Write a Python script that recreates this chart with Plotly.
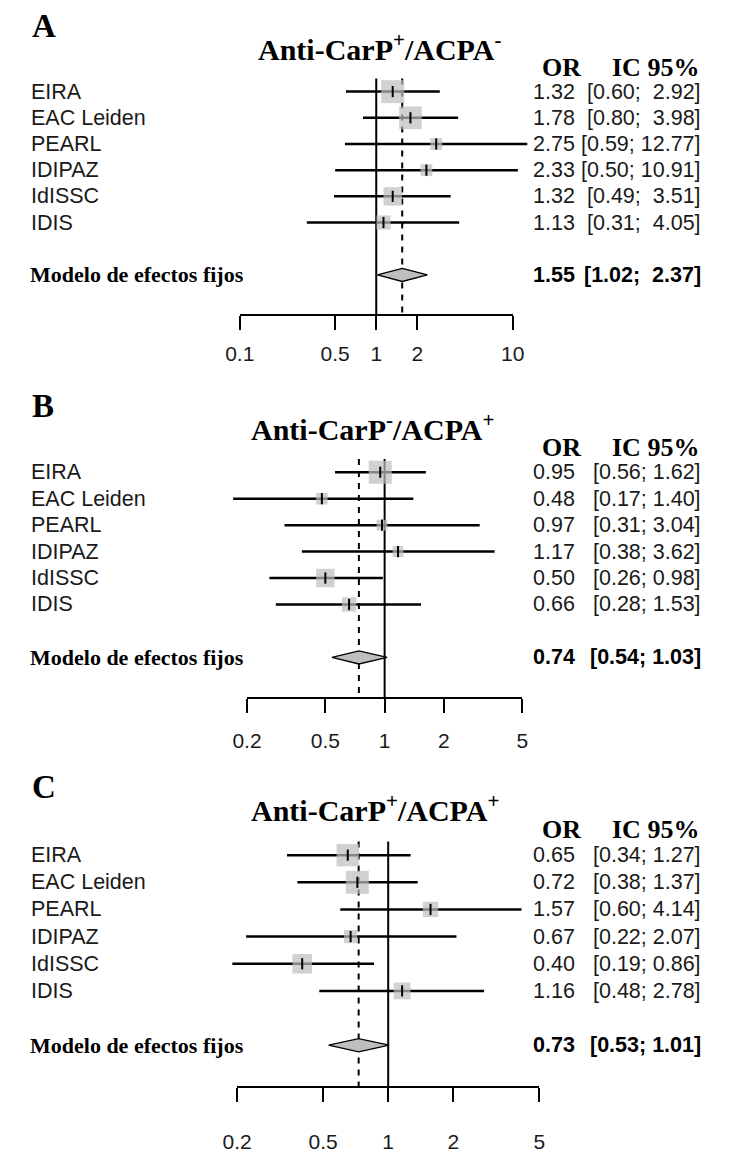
import math
import plotly.graph_objects as go

W, H = 736, 1153

studies = ["EIRA", "EAC Leiden", "PEARL", "IDIPAZ", "IdISSC", "IDIS"]
pooled_label = "Modelo de efectos fijos"

# Panel A: Anti-CarP+/ACPA-
a_letter = "A"
a_title = "Anti-CarP<sup>+</sup>/ACPA<sup>-</sup>"
a_or = [1.32, 1.78, 2.75, 2.33, 1.32, 1.13]
a_lo = [0.60, 0.80, 0.59, 0.50, 0.49, 0.31]
a_hi = [2.92, 3.98, 12.77, 10.91, 3.51, 4.05]
a_pooled = [1.55, 1.02, 2.37]
a_ticks = [0.1, 0.5, 1, 2, 10]

# Panel B: Anti-CarP-/ACPA+
b_letter = "B"
b_title = "Anti-CarP<sup>-</sup>/ACPA<sup>+</sup>"
b_or = [0.95, 0.48, 0.97, 1.17, 0.50, 0.66]
b_lo = [0.56, 0.17, 0.31, 0.38, 0.26, 0.28]
b_hi = [1.62, 1.40, 3.04, 3.62, 0.98, 1.53]
b_pooled = [0.74, 0.54, 1.03]
b_ticks = [0.2, 0.5, 1, 2, 5]

# Panel C: Anti-CarP+/ACPA+
c_letter = "C"
c_title = "Anti-CarP<sup>+</sup>/ACPA<sup>+</sup>"
c_or = [0.65, 0.72, 1.57, 0.67, 0.40, 1.16]
c_lo = [0.34, 0.38, 0.60, 0.22, 0.19, 0.48]
c_hi = [1.27, 1.37, 4.14, 2.07, 0.86, 2.78]
c_pooled = [0.73, 0.53, 1.01]
c_ticks = [0.2, 0.5, 1, 2, 5]

# ---- layout geometry (pixels) ----
# x1: pixel of OR = 1, dec: pixels per decade, row1: pixel of first study row,
# step: row pitch, title_x: left edge of the panel title, standoff: tick-label gap
geom = [
    dict(x1=375.0, dec=141.7, row1=93.3, step=26.67, title_x=250, standoff=6),
    dict(x1=383.7, dec=204.4, row1=481.0, step=26.94, title_x=243, standoff=10),
    dict(x1=387.4, dec=224.3, row1=871.0, step=27.66, title_x=243, standoff=22),
]
panels = [
    (a_letter, a_title, a_or, a_lo, a_hi, a_pooled, a_ticks),
    (b_letter, b_title, b_or, b_lo, b_hi, b_pooled, b_ticks),
    (c_letter, c_title, c_or, c_lo, c_hi, c_pooled, c_ticks),
]

Y_TOP, Y_BOT = -2.5, 9.5          # row-index range of each panel
POOL_ROW = 8
BOX_MAX = 23                      # side of the heaviest study's box, px
DIAMOND_HALF_PX = 6.7

SANS = "Liberation Sans, Arial, sans-serif"
SERIF = "Liberation Serif, Times New Roman, serif"
INK = "#1a1a1a"
GREY = "#bebebe"
NBSP = "\u00a0"

fig = go.Figure()
annotations = []
layout_axes = {}


def clamp(v):
    return min(1.0, max(0.0, v))


def fmt_ci(lo, hi, w_lo, w_hi):
    s = "[" + f"{lo:.2f}".rjust(w_lo) + "; " + f"{hi:.2f}".rjust(w_hi) + "]"
    return s.replace(" ", NBSP)


for k, ((letter, title, ors, los, his, pooled, ticks), g) in enumerate(zip(panels, geom)):
    n = k + 1
    ysuf = "" if n == 1 else str(n)
    yname = "y" + ysuf
    xwide = "x" + ysuf
    xnarrow = "x" + str(n + 3)

    px = lambda i, g=g: g["row1"] + (i - 1) * g["step"]
    top_px, bot_px = px(Y_TOP), px(Y_BOT)
    d0, d1 = clamp(1 - bot_px / H), clamp(1 - top_px / H)
    # keep the row-index scale exact even if the domain is clamped at the page edge
    y_top = Y_BOT - (Y_BOT - Y_TOP) * (d1 - d0) / ((bot_px - top_px) / H)

    layout_axes["yaxis" + ysuf] = dict(
        domain=[d0, d1], range=[Y_BOT, y_top],
        visible=False, fixedrange=True,
    )
    layout_axes["xaxis" + ysuf] = dict(
        type="log", domain=[0, 1], anchor=yname,
        range=[(0 - g["x1"]) / g["dec"], (W - g["x1"]) / g["dec"]],
        visible=False, fixedrange=True,
    )
    t0, t1 = math.log10(ticks[0]), math.log10(ticks[-1])
    layout_axes["xaxis" + str(n + 3)] = dict(
        type="log", anchor=yname,
        domain=[clamp((g["x1"] + g["dec"] * t0) / W), clamp((g["x1"] + g["dec"] * t1) / W)],
        range=[t0, t1], showgrid=False, zeroline=False,
        showline=True, linewidth=2, linecolor="black",
        ticks="outside", ticklen=14, tickwidth=2, tickcolor="black",
        tickvals=ticks, ticktext=[f"{t:g}" for t in ticks],
        tickfont=dict(family=SANS, size=21, color=INK),
        ticklabelstandoff=g["standoff"], fixedrange=True,
    )

    rows = list(range(1, len(ors) + 1))
    est, plo, phi = pooled
    common = dict(xaxis=xwide, yaxis=yname, showlegend=False, hoverinfo="skip")

    # axis holder on the tick axis
    fig.add_trace(go.Scatter(x=[ticks[0], ticks[-1]], y=[Y_BOT, Y_BOT], mode="markers",
                             marker=dict(opacity=0), xaxis=xnarrow, yaxis=yname,
                             showlegend=False, hoverinfo="skip"))

    # line of no effect and pooled-estimate line
    fig.add_trace(go.Scatter(x=[1, 1], y=[0.5, Y_BOT], mode="lines",
                             line=dict(color="black", width=2), **common))
    fig.add_trace(go.Scatter(x=[est, est], y=[0.5, Y_BOT], mode="lines",
                             line=dict(color="black", width=2, dash="6px,6px"), **common))

    # confidence intervals
    cx, cy = [], []
    for r, lo, hi in zip(rows, los, his):
        cx += [lo, hi, None]
        cy += [r, r, None]
    fig.add_trace(go.Scatter(x=cx, y=cy, mode="lines",
                             line=dict(color="black", width=2.5), **common))

    # study boxes, area proportional to inverse-variance weight
    weights = [1 / ((math.log(hi) - math.log(lo)) / 3.92) ** 2 for lo, hi in zip(los, his)]
    wmax = max(weights)
    sizes = [BOX_MAX * math.sqrt(w / wmax) for w in weights]
    fig.add_trace(go.Scatter(x=ors, y=rows, mode="markers", cliponaxis=False,
                             marker=dict(symbol="square", size=sizes, color=GREY,
                                         line=dict(width=0)), **common))
    fig.add_trace(go.Scatter(x=ors, y=rows, mode="markers", cliponaxis=False,
                             marker=dict(symbol="line-ns", size=8,
                                         line=dict(width=2, color="black")), **common))

    # pooled diamond
    dh = DIAMOND_HALF_PX / g["step"]
    fig.add_trace(go.Scatter(x=[plo, est, phi, est, plo],
                             y=[POOL_ROW, POOL_ROW - dh, POOL_ROW, POOL_ROW + dh, POOL_ROW],
                             mode="lines", fill="toself", fillcolor=GREY,
                             line=dict(color="black", width=1.3), **common))

    # text
    annotations.append(dict(text=f"<b>{letter}</b>", x=16 / W, xref="paper", xanchor="left",
                            y=-1.5, yref=yname, yanchor="middle", showarrow=False,
                            font=dict(family=SERIF, size=33, color="black")))
    annotations.append(dict(text=f"<b>{title}</b>", x=g["title_x"] / W, xref="paper",
                            xanchor="left", y=-0.72, yref=yname, yanchor="middle",
                            showarrow=False, font=dict(family=SERIF, size=30, color="black")))
    annotations.append(dict(text="<b>OR</b>", x=567 / W, xref="paper", xanchor="center",
                            y=0.07, yref=yname, yanchor="middle", showarrow=False,
                            font=dict(family=SERIF, size=26, color="black")))
    annotations.append(dict(text="<b>IC 95%</b>", x=665 / W, xref="paper", xanchor="center",
                            y=0.07, yref=yname, yanchor="middle", showarrow=False,
                            font=dict(family=SERIF, size=26, color="black")))

    w_lo = max(len(f"{v:.2f}") for v in list(los) + [plo])
    w_hi = max(len(f"{v:.2f}") for v in list(his) + [phi])
    for r, name, o, lo, hi in zip(rows, studies, ors, los, his):
        annotations.append(dict(text=name, x=15 / W, xref="paper", xanchor="left",
                                y=r, yref=yname, yanchor="middle", showarrow=False,
                                font=dict(family=SANS, size=21.5, color=INK)))
        annotations.append(dict(text=f"{o:.2f}", x=583 / W, xref="paper", xanchor="right",
                                y=r, yref=yname, yanchor="middle", showarrow=False,
                                font=dict(family=SANS, size=21.5, color=INK)))
        annotations.append(dict(text=fmt_ci(lo, hi, w_lo, w_hi), x=714 / W, xref="paper",
                                xanchor="right", y=r, yref=yname, yanchor="middle",
                                showarrow=False, font=dict(family=SANS, size=21.5, color=INK)))
    annotations.append(dict(text=f"<b>{pooled_label}</b>", x=13 / W, xref="paper",
                            xanchor="left", y=POOL_ROW, yref=yname, yanchor="middle",
                            showarrow=False, font=dict(family=SERIF, size=22, color="black")))
    annotations.append(dict(text=f"<b>{est:.2f}</b>", x=583 / W, xref="paper", xanchor="right",
                            y=POOL_ROW, yref=yname, yanchor="middle", showarrow=False,
                            font=dict(family=SANS, size=21.5, color="black")))
    annotations.append(dict(text=f"<b>{fmt_ci(plo, phi, w_lo, w_hi)}</b>", x=714 / W,
                            xref="paper", xanchor="right", y=POOL_ROW, yref=yname,
                            yanchor="middle", showarrow=False,
                            font=dict(family=SANS, size=21.5, color="black")))

fig.update_layout(
    width=W, height=H, margin=dict(l=0, r=0, t=0, b=0),
    paper_bgcolor="white", plot_bgcolor="rgba(0,0,0,0)",
    showlegend=False, annotations=annotations, **layout_axes,
)

fig.write_html("out.html")
